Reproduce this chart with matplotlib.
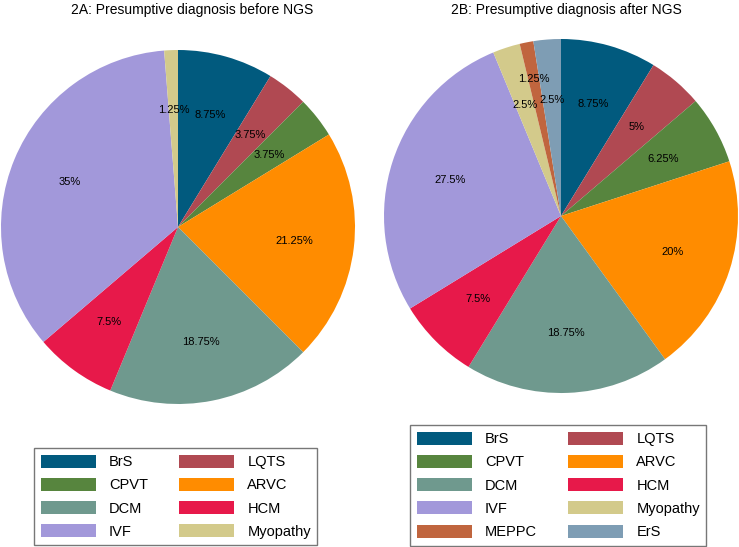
import matplotlib.pyplot as plt
from matplotlib.patches import Patch

plt.rcParams['font.family'] = ['Liberation Sans', 'DejaVu Sans']

# Diagnoses and shares (%)
dx_before = ['BrS', 'LQTS', 'CPVT', 'ARVC', 'DCM', 'HCM', 'IVF', 'Myopathy']
pct_before = [8.75, 3.75, 3.75, 21.25, 18.75, 7.5, 35, 1.25]

dx_after = ['BrS', 'LQTS', 'CPVT', 'ARVC', 'DCM', 'HCM', 'IVF', 'Myopathy', 'MEPPC', 'ErS']
pct_after = [8.75, 5, 6.25, 20, 18.75, 7.5, 27.5, 2.5, 1.25, 2.5]

colors = {
    'BrS': '#015a7e', 'LQTS': '#b04952', 'CPVT': '#57853e', 'ARVC': '#ff8c00',
    'DCM': '#6f998e', 'HCM': '#e7194a', 'IVF': '#a298da', 'Myopathy': '#d3ca8b',
    'MEPPC': '#c0653e', 'ErS': '#7e9db4',
}

W, H = 739, 547
fig = plt.figure(figsize=(W / 100, H / 100), dpi=100)


def draw_pie(cx, cy, r, names, vals, title, title_x, leg_x, leg_y, push=None):
    ax = fig.add_axes([(cx - r) / W, 1 - (cy + r) / H, 2 * r / W, 2 * r / H])
    wedges, texts, autotexts = ax.pie(
        vals, colors=[colors[n] for n in names], startangle=90, counterclock=False,
        autopct=lambda p: f"{round(p, 2):g}%", pctdistance=0.66,
        textprops={'fontsize': 8, 'color': 'black'},
        wedgeprops={'linewidth': 0})
    # nudge crowded small-slice labels outward
    if push:
        for name, scale in push.items():
            t = autotexts[names.index(name)]
            x, y = t.get_position()
            t.set_position((x * scale, y * scale))
    ax.set_xlim(-1, 1)
    ax.set_ylim(-1, 1)
    ax.set_aspect('equal')
    ax.axis('off')
    fig.text(title_x / W, 1 - 10 / H, title, ha='center', va='center', fontsize=10)

    # legend fills row by row: reorder for matplotlib's column-major layout
    order = list(range(0, len(names), 2)) + list(range(1, len(names), 2))
    handles = [Patch(facecolor=colors[names[i]], edgecolor='none') for i in order]
    labels = [names[i] for i in order]
    leg = fig.legend(handles, labels, ncol=2, loc='upper left',
                     bbox_to_anchor=(leg_x / W, 1 - leg_y / H), borderaxespad=0,
                     fontsize=10.5, handlelength=3.8, handleheight=1.0,
                     handletextpad=0.9, labelspacing=0.6, columnspacing=2.1,
                     borderpad=0.45, fancybox=False, frameon=True)
    leg.get_frame().set_edgecolor('#555555')
    leg.get_frame().set_linewidth(1.0)


draw_pie(178, 227, 177, dx_before, pct_before,
         '2A: Presumptive diagnosis before NGS', 192, 34, 448)
draw_pie(561, 216, 177, dx_after, pct_after,
         '2B: Presumptive diagnosis after NGS', 566, 410, 425,
         push={'MEPPC': 1.2})

fig.savefig('out.png', dpi=100)
